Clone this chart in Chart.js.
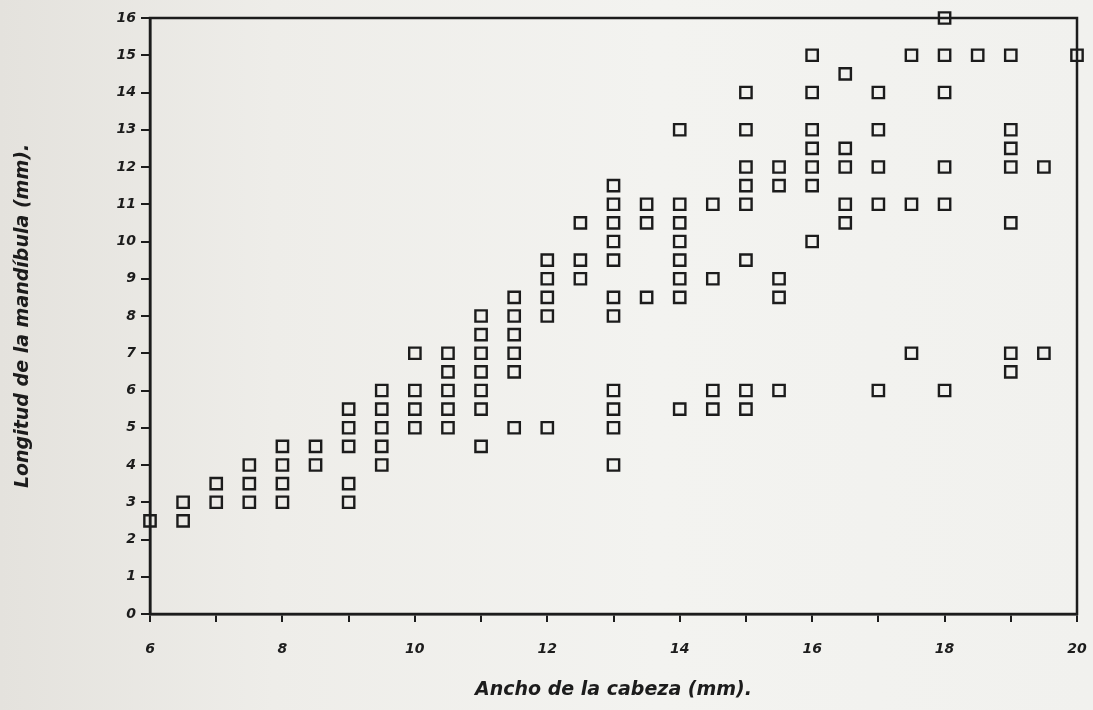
<!DOCTYPE html>
<html>
<head>
<meta charset="utf-8">
<script src="https://cdn.jsdelivr.net/npm/chart.js@4/dist/chart.umd.min.js"></script>
<style>
  html, body { margin: 0; padding: 0; }
  body {
    width: 1093px; height: 710px; overflow: hidden;
    background: linear-gradient(90deg, #e4e2dd 0%, #eeede9 25%, #f3f3f0 60%, #f1f1ee 100%);
  }
  #wrap { position: absolute; left: 0; top: 0; width: 1093px; height: 710px; }
</style>
</head>
<body>
<div id="wrap"><canvas id="scatter" width="1093" height="710"></canvas></div>
<script>
// head width (mm) -> list of mandible lengths (mm)
const anchos = [6, 6.5, 7, 7.5, 8, 8.5, 9, 9.5, 10, 10.5, 11, 11.5, 12, 12.5, 13, 13.5,
                14, 14.5, 15, 15.5, 16, 16.5, 17, 17.5, 18, 18.5, 19, 19.5, 20];
const longitudes = [
  [2.5],
  [3, 2.5],
  [3.5, 3],
  [4, 3.5, 3],
  [4.5, 4, 3.5, 3],
  [4.5, 4],
  [5.5, 5, 4.5, 3.5, 3],
  [6, 5.5, 5, 4.5, 4],
  [7, 6, 5.5, 5],
  [7, 6.5, 6, 5.5, 5],
  [8, 7.5, 7, 6.5, 6, 5.5, 4.5],
  [8.5, 8, 7.5, 7, 6.5, 5],
  [9.5, 9, 8.5, 8, 5],
  [10.5, 9.5, 9],
  [11.5, 11, 10.5, 10, 9.5, 8.5, 8, 6, 5.5, 5, 4],
  [11, 10.5, 8.5],
  [13, 11, 10.5, 10, 9.5, 9, 8.5, 5.5],
  [11, 9, 6, 5.5],
  [14, 13, 12, 11.5, 11, 9.5, 6, 5.5],
  [12, 11.5, 9, 8.5, 6],
  [15, 14, 13, 12.5, 12, 11.5, 10],
  [14.5, 12.5, 12, 11, 10.5],
  [14, 13, 12, 11, 6],
  [15, 11, 7],
  [16, 15, 14, 12, 11, 6],
  [15],
  [15, 13, 12.5, 12, 10.5, 7, 6.5],
  [12, 7],
  [15]
];
const xTitulo = "Ancho de la cabeza (mm).";
const yTitulo = "Longitud de la mandíbula (mm).";

const puntos = [];
anchos.forEach((a, i) => longitudes[i].forEach(l => puntos.push({ x: a, y: l })));

const tinta = "#1c1c1c";
const fuenteEje = { family: "DejaVu Sans", size: 14, weight: "bold", style: "italic" };
const fuenteTit = { family: "DejaVu Sans", size: 19, weight: "bold", style: "italic" };

// closed frame like the original plot (top and right edges)
const marco = {
  id: "marco",
  afterDatasetsDraw(chart) {
    const { ctx, chartArea: a } = chart;
    ctx.save();
    ctx.strokeStyle = tinta;
    ctx.lineWidth = 2.5;
    ctx.strokeRect(a.left, a.top, a.right - a.left, a.bottom - a.top);
    ctx.restore();
  }
};

new Chart(document.getElementById("scatter"), {
  type: "scatter",
  data: {
    datasets: [{
      data: puntos,
      pointStyle: "rect",
      radius: 8,
      hoverRadius: 8,
      borderWidth: 2.4,
      borderColor: tinta,
      backgroundColor: "rgba(0,0,0,0)",
      clip: false
    }]
  },
  options: {
    responsive: false,
    animation: false,
    layout: { padding: { top: 18, right: 16, left: 0, bottom: 0 } },
    plugins: { legend: { display: false }, tooltip: { enabled: false } },
    scales: {
      x: {
        type: "linear",
        min: 6, max: 20,
        afterFit(s) { s.height = 96; s.paddingLeft = 0; s.paddingRight = 0; },
        border: { display: true, color: tinta, width: 2.5 },
        grid: { drawOnChartArea: false, drawTicks: true, tickLength: 8, color: tinta, lineWidth: 2 },
        ticks: {
          stepSize: 1, color: tinta, font: fuenteEje, padding: 19, maxRotation: 0, autoSkip: false,
          callback: v => (v % 2 === 0 ? v : "")
        },
        title: { display: true, text: xTitulo, color: tinta, font: fuenteTit, padding: { top: 4, bottom: 9 } }
      },
      y: {
        type: "linear",
        min: 0, max: 16,
        afterFit(s) { s.width = 150; s.paddingTop = 0; s.paddingBottom = 0; },
        border: { display: true, color: tinta, width: 2.5 },
        grid: { drawOnChartArea: false, drawTicks: true, tickLength: 9, color: tinta, lineWidth: 2 },
        ticks: { stepSize: 1, color: tinta, font: fuenteEje, padding: 5, autoSkip: false },
        title: { display: true, text: yTitulo, color: tinta, font: fuenteTit, padding: { top: 12, bottom: 0 } }
      }
    }
  },
  plugins: [marco]
});
</script>
</body>
</html>
